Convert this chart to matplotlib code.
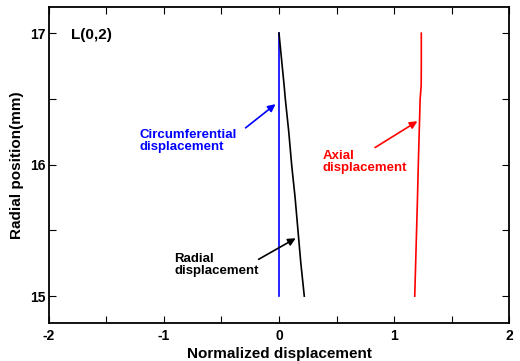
#!/usr/bin/env python3
"""Mode shape of L(0,2): normalized displacement across the pipe wall."""

import matplotlib.pyplot as plt
from matplotlib.ticker import MultipleLocator

# radial position (mm)
radius = [15.0, 15.25, 15.5, 15.75, 16.0, 16.25, 16.5, 16.6, 16.75, 17.0]
# normalized displacement components
circumferential = [0.0, 0.0, 0.0, 0.0, 0.0, 0.0, 0.0, 0.0, 0.0, 0.0]
radial = [0.22, 0.19, 0.165, 0.14, 0.11, 0.085, 0.055, 0.045, 0.028, 0.0]
axial = [1.18, 1.188, 1.196, 1.204, 1.211, 1.219, 1.227, 1.236, 1.237, 1.237]

plt.rcParams["font.family"] = ["Liberation Sans", "DejaVu Sans"]
plt.rcParams["font.weight"] = "bold"
plt.rcParams["axes.unicode_minus"] = False

fig, ax = plt.subplots(figsize=(5.2, 3.61), dpi=100)
fig.subplots_adjust(left=0.094, right=0.979, top=0.981, bottom=0.105)

ax.plot(circumferential, radius, color="blue", linewidth=1.2)
ax.plot(radial, radius, color="black", linewidth=1.2)
ax.plot(axial, radius, color="red", linewidth=1.2)

arrow = dict(arrowstyle="-|>", lw=1.2, mutation_scale=11, shrinkA=0, shrinkB=0)
ax.annotate("", xy=(-0.03, 16.46), xytext=(-0.29, 16.28),
            arrowprops=dict(arrow, color="blue"))
ax.annotate("", xy=(0.145, 15.44), xytext=(-0.177, 15.28),
            arrowprops=dict(arrow, color="black"))
ax.annotate("", xy=(1.203, 16.33), xytext=(0.835, 16.13),
            arrowprops=dict(arrow, color="red"))

ax.text(-1.21, 16.18, "Circumferential\ndisplacement", color="blue",
        fontsize=9.5, fontweight="bold", va="center", ha="left", linespacing=1.0)
ax.text(-0.91, 15.24, "Radial\ndisplacement", color="black",
        fontsize=9.5, fontweight="bold", va="center", ha="left", linespacing=1.0)
ax.text(0.38, 16.02, "Axial\ndisplacement", color="red",
        fontsize=9.5, fontweight="bold", va="center", ha="left", linespacing=1.0)
ax.text(-1.81, 16.985, "L(0,2)", fontsize=11, fontweight="bold",
        va="center", ha="left")

ax.set_xlim(-2, 2)
ax.set_ylim(14.795, 17.2)
ax.xaxis.set_major_locator(MultipleLocator(1))
ax.xaxis.set_minor_locator(MultipleLocator(0.5))
ax.set_yticks([15, 16, 17])
ax.set_yticks([15.5, 16.5], minor=True)
ax.tick_params(which="both", direction="in", top=True, right=True,
               labelsize=10, width=0.8, length=5)
ax.tick_params(axis="y", pad=2.5)
ax.tick_params(axis="x", pad=4)
for sp in ax.spines.values():
    sp.set_linewidth(1.3)

ax.set_xlabel("Normalized displacement", fontsize=11, fontweight="bold", labelpad=3)
ax.set_ylabel("Radial position(mm)", fontsize=11, fontweight="bold", labelpad=4)

fig.savefig("out.png", dpi=100)
